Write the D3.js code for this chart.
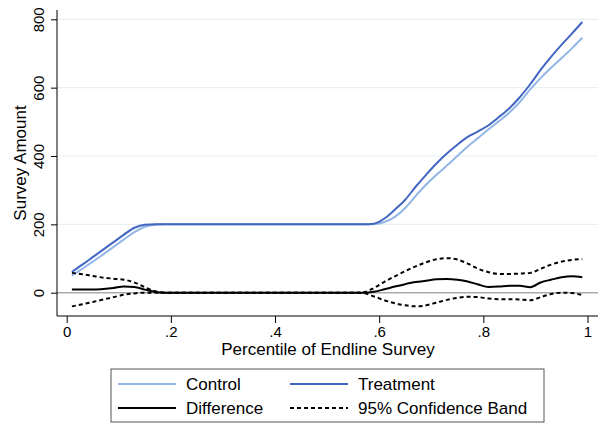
<!DOCTYPE html>
<html>
  <head>
    <script src="https://d3js.org/d3.v7.min.js"></script>
    <style>
      body { margin: 0; background: #fff; }
      text { font-family: "Liberation Sans", Arial, sans-serif; fill: #000; }
    </style>
  </head>
  <body>
    <script>

    // percentile grid of the endline survey
    const pct = [0.01, 0.03, 0.05, 0.07, 0.09, 0.11, 0.13, 0.15, 0.17, 0.19,
                 0.21, 0.23, 0.25, 0.27, 0.29, 0.31, 0.33, 0.35, 0.37, 0.39,
                 0.41, 0.43, 0.45, 0.47, 0.49, 0.51, 0.53, 0.55, 0.57, 0.59,
                 0.61, 0.63, 0.65, 0.67, 0.69, 0.71, 0.73, 0.75, 0.77, 0.79,
                 0.81, 0.83, 0.85, 0.87, 0.89, 0.91, 0.93, 0.95, 0.97, 0.99];

    const control = [50, 70, 91, 112, 134, 156, 177, 193, 199, 200,
                     200, 200, 200, 200, 200, 200, 200, 200, 200, 200,
                     200, 200, 200, 200, 200, 200, 200, 200, 200, 201,
                     207, 222, 248, 283, 316, 345, 372, 400, 428, 453,
                     478, 502, 527, 558, 595, 628, 658, 686, 715, 746];

    const treatment = [61, 82, 104, 126, 148, 170, 190, 199, 200, 200,
                       200, 200, 200, 200, 200, 200, 200, 200, 200, 200,
                       200, 200, 200, 200, 200, 200, 200, 200, 200, 202,
                       217, 243, 272, 310, 345, 378, 407, 433, 456, 472,
                       490, 514, 540, 572, 610, 652, 690, 725, 758, 792];

    const difference = [9, 9, 9, 11, 14, 18, 17, 9, 2, 0,
                        0, 0, 0, 0, 0, 0, 0, 0, 0, 0,
                        0, 0, 0, 0, 0, 0, 0, 0, 0, 3,
                        10, 18, 25, 31, 35, 39, 40, 38, 33, 24,
                        17, 18, 20, 20, 16, 30, 38, 45, 48, 45];

    const upper = [58, 54, 49, 44, 41, 38, 30, 16, 4, 0,
                   0, 0, 0, 0, 0, 0, 0, 0, 0, 0,
                   0, 0, 0, 0, 0, 0, 0, 0, 1, 14,
                   32, 48, 63, 77, 89, 98, 101, 97, 85, 70,
                   60, 55, 55, 56, 58, 70, 82, 91, 96, 98];

    const lower = [-40, -34, -27, -20, -13, -6, -2, 0, 0, 0,
                   0, 0, 0, 0, 0, 0, 0, 0, 0, 0,
                   0, 0, 0, 0, 0, 0, 0, 0, -1, -11,
                   -22, -31, -37, -40, -37, -29, -21, -15, -12, -13,
                   -17, -19, -19, -20, -22, -13, -4, 0, -1, -7];

    const xTicks = [0, 0.2, 0.4, 0.6, 0.8, 1];
    const xTickLabels = ["0", ".2", ".4", ".6", ".8", "1"];
    const yTicks = [0, 200, 400, 600, 800];

    const width = 600;
    const height = 424;
    const plotLeft = 57, plotRight = 598, plotTop = 10, plotBottom = 316;

    const x = d3.scaleLinear().domain([0, 1]).range([66.7, 587.5]);
    const y = d3.scaleLinear().domain([0, 800]).range([292.7, 19.3]);

    const svg = d3.select("body").append("svg")
        .attr("width", width)
        .attr("height", height);

    // gridlines
    svg.append("g")
      .selectAll("line")
      .data(yTicks.filter(d => d > 0))
      .enter().append("line")
        .attr("x1", plotLeft).attr("x2", plotRight)
        .attr("y1", d => y(d)).attr("y2", d => y(d))
        .style("stroke", "#e8f0f2")
        .style("stroke-width", 1.2);

    // zero reference line
    svg.append("line")
      .attr("x1", plotLeft).attr("x2", plotRight)
      .attr("y1", y(0)).attr("y2", y(0))
      .style("stroke", "#ababab")
      .style("stroke-width", 1.5);

    const line = vals => d3.line()
        .x((d, i) => x(pct[i]))
        .y(d => y(d))
        .curve(d3.curveMonotoneX)(vals);

    const series = [
      { name: "Control", vals: control, color: "#93b6e6", dash: null },
      { name: "Treatment", vals: treatment, color: "#4266c2", dash: null },
      { name: "Difference", vals: difference, color: "#000", dash: null },
      { name: "upper", vals: upper, color: "#000", dash: "4,3" },
      { name: "lower", vals: lower, color: "#000", dash: "4,3" }
    ];

    svg.append("g")
      .selectAll("path")
      .data(series)
      .enter().append("path")
        .attr("d", d => line(d.vals))
        .style("fill", "none")
        .style("stroke", d => d.color)
        .style("stroke-width", 2)
        .style("stroke-dasharray", d => d.dash);

    // x axis
    const xAxis = svg.append("g")
      .attr("transform", `translate(0,${plotBottom})`)
      .call(d3.axisBottom(x).tickValues(xTicks)
        .tickFormat((d, i) => xTickLabels[i]).tickSize(7).tickSizeOuter(0));
    xAxis.select(".domain").remove();
    xAxis.selectAll("text").style("font-size", "15px").attr("dy", "0.72em").attr("y", 10);
    xAxis.append("line")
      .attr("x1", plotLeft).attr("x2", plotRight)
      .style("stroke", "#000");

    // y axis
    const yAxis = svg.append("g")
      .attr("transform", `translate(${plotLeft},0)`)
      .call(d3.axisLeft(y).tickValues(yTicks).tickSize(6).tickSizeOuter(0));
    yAxis.select(".domain").remove();
    yAxis.selectAll("text")
      .style("font-size", "15px")
      .attr("text-anchor", "middle")
      .attr("dy", null)
      .attr("x", null)
      .attr("transform", "translate(-13,0) rotate(-90)");
    yAxis.append("line")
      .attr("y1", plotTop).attr("y2", plotBottom)
      .style("stroke", "#000");

    // axis titles
    svg.append("text")
      .attr("x", 328).attr("y", 355)
      .attr("text-anchor", "middle")
      .style("font-size", "17px")
      .text("Percentile of Endline Survey");

    svg.append("text")
      .attr("transform", "translate(26,163) rotate(-90)")
      .attr("text-anchor", "middle")
      .style("font-size", "17px")
      .text("Survey Amount");

    // legend
    const legend = svg.append("g");
    legend.append("rect")
      .attr("x", 111).attr("y", 369)
      .attr("width", 433).attr("height", 53)
      .style("fill", "#fff")
      .style("stroke", "#555");

    const legendItems = [
      { s: series[0], lx: 118, ly: 384 },
      { s: series[1], lx: 290, ly: 384 },
      { s: series[2], lx: 118, ly: 408 },
      { s: { name: "95% Confidence Band", color: "#000", dash: "4,3" }, lx: 290, ly: 408 }
    ];

    const item = legend.selectAll("g.item")
      .data(legendItems)
      .enter().append("g")
        .attr("class", "item");

    item.append("line")
      .attr("x1", d => d.lx).attr("x2", d => d.lx + 58)
      .attr("y1", d => d.ly).attr("y2", d => d.ly)
      .style("stroke", d => d.s.color)
      .style("stroke-width", 2)
      .style("stroke-dasharray", d => d.s.dash);

    item.append("text")
      .attr("x", d => d.lx + 68).attr("y", d => d.ly)
      .attr("dy", "0.36em")
      .style("font-size", "17px")
      .text(d => d.s.name);

    </script>
  </body>
</html>
